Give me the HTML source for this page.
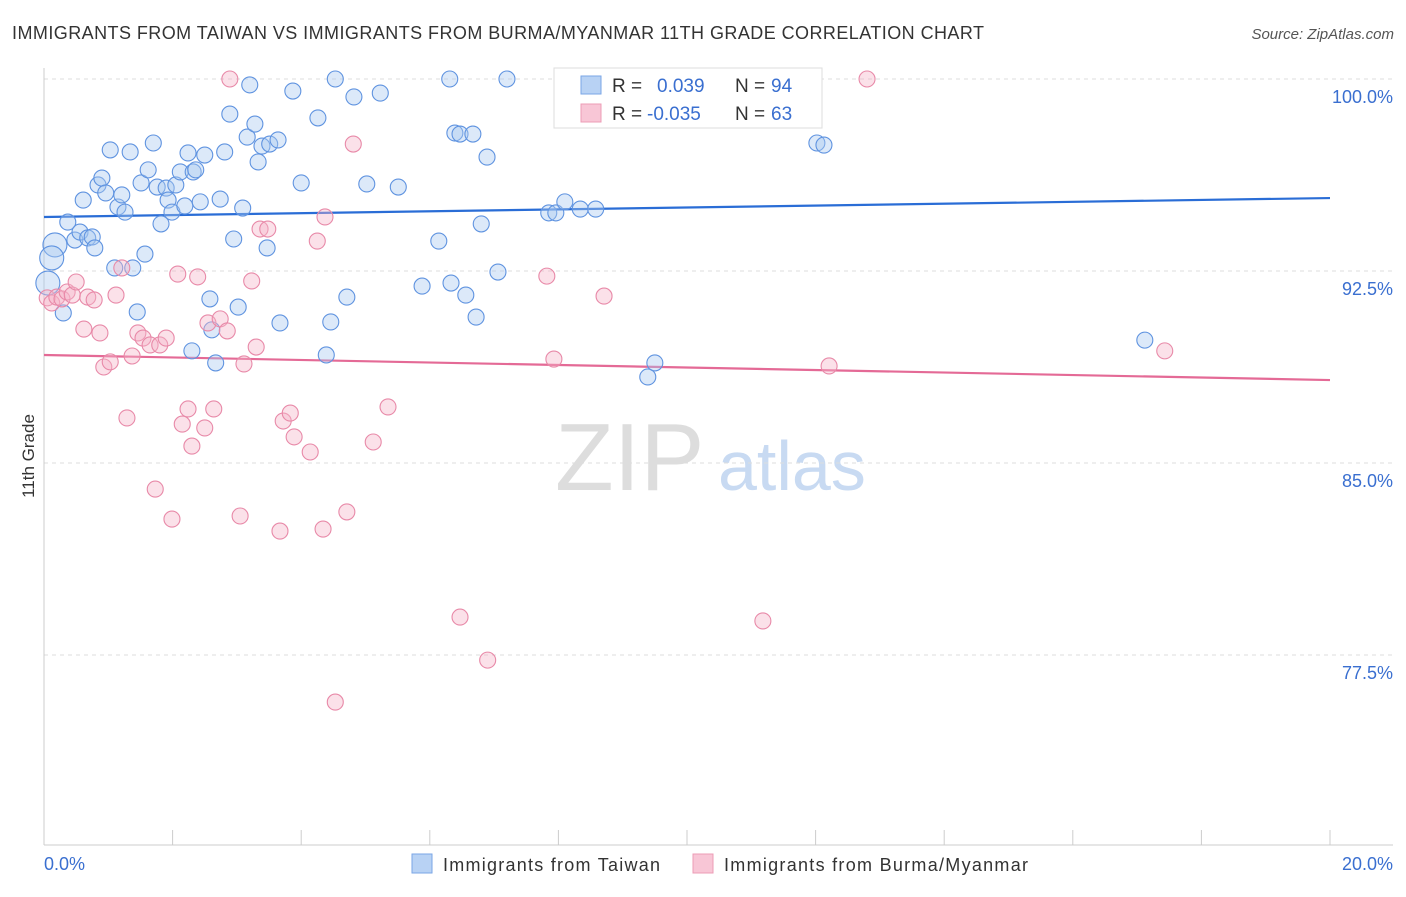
<!DOCTYPE html>
<html><head><meta charset="utf-8"><style>
body{margin:0;background:#fff;font-family:"Liberation Sans",sans-serif;}
svg text{font-family:"Liberation Sans",sans-serif;}
</style></head><body>
<svg id="chart" width="1406" height="892" xmlns="http://www.w3.org/2000/svg">
<text x="12" y="39" font-size="18" fill="#333" textLength="972" lengthAdjust="spacing">IMMIGRANTS FROM TAIWAN VS IMMIGRANTS FROM BURMA/MYANMAR 11TH GRADE CORRELATION CHART</text>
<text x="1394" y="39" font-size="15" fill="#555" text-anchor="end" font-style="italic">Source: ZipAtlas.com</text>
<g>
<text x="555" y="490" font-size="96" fill="#ddd" font-family="Liberation Serif,serif">ZIP</text>
<text x="718" y="490" font-size="70" fill="#c8daf2">atlas</text>
</g>
<g id="grid"></g><g id="axes"></g><g id="trends"></g><g id="pts"></g>
<text transform="translate(34,456) rotate(-90)" font-size="17" fill="#333" text-anchor="middle">11th Grade</text>
<g>
<rect x="554" y="68" width="268" height="60" fill="#fff" stroke="#ddd"/>
<rect x="581" y="76" width="20" height="18" fill="#b8d2f4" stroke="#7aa6e6"/>
<rect x="581" y="104" width="20" height="18" fill="#f8c6d6" stroke="#ec9cb6"/>
<text x="612" y="92" font-size="19" fill="#333">R =</text>
<text x="657" y="92" font-size="19" fill="#3a6fd0">0.039</text>
<text x="735" y="92" font-size="19" fill="#333">N =</text>
<text x="771" y="92" font-size="19" fill="#3a6fd0">94</text>
<text x="612" y="120" font-size="19" fill="#333">R =</text>
<text x="647" y="120" font-size="19" fill="#3a6fd0">-0.035</text>
<text x="735" y="120" font-size="19" fill="#333">N =</text>
<text x="771" y="120" font-size="19" fill="#3a6fd0">63</text>
</g>
<g>
<rect x="412" y="854" width="20" height="19" fill="#b8d2f4" stroke="#7aa6e6"/>
<text x="443" y="871" font-size="18" fill="#333" textLength="217" lengthAdjust="spacing">Immigrants from Taiwan</text>
<rect x="693" y="854" width="20" height="19" fill="#f8c6d6" stroke="#ec9cb6"/>
<text x="724" y="871" font-size="18" fill="#333" textLength="304" lengthAdjust="spacing">Immigrants from Burma/Myanmar</text>
</g>
</svg>
<script>
const yTicks=[100,92.5,85,77.5];
const yTickLabels=["100.0%","92.5%","85.0%","77.5%"];
const xTickLabels=["0.0%","20.0%"];
const taiwanX=[.17,.12,.30,.37,.48,.56,.68,.75,.79,.61,.84,.90,.96,1.03,1.15,1.21,1.26,1.34,1.10,1.38,1.45,1.51,1.57,1.62,1.70,1.76,1.82,1.90,1.93,1.99,2.05,2.12,2.19,2.24,2.32,2.36,2.43,2.50,2.58,2.61,2.30,2.67,2.74,2.81,2.89,2.95,3.02,3.09,3.16,3.20,3.28,3.33,3.39,3.47,3.51,3.64,3.67,3.87,4.00,4.26,4.39,4.46,4.53,4.71,4.82,5.02,5.23,5.51,5.88,6.14,6.31,6.33,6.39,6.47,6.56,6.67,6.72,6.80,6.89,7.06,7.20,7.85,7.96,8.10,8.34,8.58,9.39,9.50,11.76,12.02,12.13,17.12,.06];
const taiwanY=[93.52,93.01,90.86,94.41,93.71,94.02,93.79,93.83,93.40,95.27,95.86,96.13,95.55,97.23,95.0,95.47,94.80,97.15,92.62,92.62,90.90,95.94,93.16,96.45,97.50,95.78,94.34,95.74,95.27,94.80,95.86,96.37,95.04,97.11,96.37,96.45,95.20,97.03,91.41,90.20,89.38,88.91,95.31,97.15,98.63,93.75,91.09,94.96,97.73,99.77,98.24,96.76,97.38,93.40,97.46,97.62,90.47,99.53,95.94,98.48,89.22,90.51,100,91.48,99.30,95.90,99.45,95.78,91.91,93.67,100,92.03,97.89,97.85,91.56,97.85,90.70,94.34,96.95,92.46,100,94.77,94.77,95.20,94.92,94.92,88.36,88.91,100,97.50,97.42,89.80,92.03];
const burmaX=[.05,.12,.20,.28,.36,.44,.50,.62,.68,.78,.87,.93,1.03,1.12,1.21,1.29,1.37,1.46,1.54,1.65,1.73,1.80,1.90,1.99,2.08,2.15,2.24,2.30,2.39,2.50,2.55,2.64,2.74,2.85,2.89,3.05,3.11,3.23,3.30,3.36,3.48,3.67,3.72,3.83,3.89,4.14,4.25,4.34,4.37,4.71,4.81,5.12,5.35,6.47,6.90,4.53,7.82,7.93,8.71,11.18,12.21,12.80,17.43];
const burmaY=[91.45,91.25,91.48,91.41,91.68,91.56,92.07,90.23,91.48,91.37,90.08,88.75,88.95,91.56,92.62,86.76,89.18,90.08,89.88,89.61,83.98,89.61,89.88,82.81,92.38,86.52,87.11,85.66,92.27,86.37,90.47,87.11,90.63,90.16,100,82.93,88.87,92.11,89.53,94.14,94.14,82.34,86.64,86.95,86.02,85.43,93.67,82.42,94.61,83.09,97.46,85.82,87.19,78.98,77.30,75.66,92.30,89.06,91.52,78.83,88.79,100,89.38];
const trendTaiwan=[94.61,95.35];
const trendBurma=[89.22,88.24];
const NS="http://www.w3.org/2000/svg";
const X=v=>44+v/20*1286, Y=v=>79+(100-v)*25.6;
function mk(p,t,a){const e=document.createElementNS(NS,t);for(const k in a)e.setAttribute(k,a[k]);document.getElementById(p).appendChild(e);return e;}
yTicks.forEach((t,i)=>{
 let l=mk('grid','line',{x1:44,x2:1393,y1:Y(t),y2:Y(t),stroke:'#ddd','stroke-dasharray':'4,4'});
 
 
 let tx=mk('grid','text',{x:1393,y:Y(t)+24,'font-size':18,fill:'#3a6fd0','text-anchor':'end'});tx.textContent=yTickLabels[i];
 
 
});
let ax=mk('axes','line',{x1:44,x2:44,y1:68,y2:845,stroke:'#ccc'});


let bx=mk('axes','line',{x1:44,x2:1393,y1:845,y2:845,stroke:'#ccc'});


for(let i=0;i<=10;i++){let t=mk('axes','line',{x1:X(i*2),x2:X(i*2),y1:830,y2:845,stroke:'#ccc'});
 
 }
[[0,'start',44],[20,'end',1393]].forEach((d,i)=>{let t=mk('axes','text',{x:d[2],y:870,'font-size':18,fill:'#3a6fd0','text-anchor':d[1]});t.textContent=xTickLabels[i];
 
 });
function pts(xs,ys,fill,stroke,name){xs.forEach((x,i)=>{let big=(x<0.2&&name==='taiwan-point');let c=mk('pts','circle',{cx:X(x),cy:Y(ys[i]),r:big?12:8,fill:fill,'fill-opacity':0.4,stroke:stroke,'stroke-width':1.1});
 
 });}
pts(taiwanX,taiwanY,'#a8c8f0','#5f93e0','taiwan-point');
pts(burmaX,burmaY,'#f6b4c8','#e889a8','burma-point');
let t1=mk('trends','line',{x1:X(0),x2:X(20),y1:Y(trendTaiwan[0]),y2:Y(trendTaiwan[1]),stroke:'#2a6dd6','stroke-width':2.2});


let t2=mk('trends','line',{x1:X(0),x2:X(20),y1:Y(trendBurma[0]),y2:Y(trendBurma[1]),stroke:'#e46a96','stroke-width':2.2});


</script>
</body></html>
